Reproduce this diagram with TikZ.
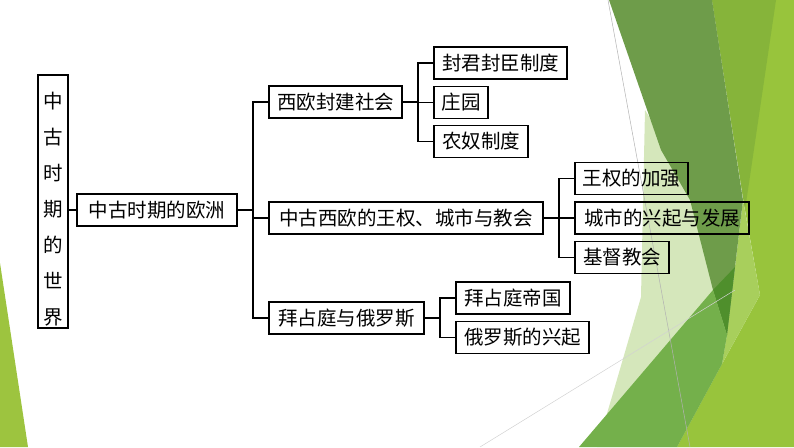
\documentclass[tikz,border=0pt]{standalone}
\usepackage{fontspec}
\newfontfamily\cjk{Noto Sans CJK SC}
\definecolor{facetdark}{RGB}{110,156,74}
\definecolor{facetdarkest}{RGB}{79,143,44}
\definecolor{facetyellow}{RGB}{134,180,58}
\definecolor{facetlime}{RGB}{152,196,60}
\definecolor{facetlightlime}{RGB}{168,207,92}
\definecolor{facetpale}{RGB}{213,231,187}
\definecolor{facetmed}{RGB}{116,176,75}
\definecolor{facetleft}{RGB}{157,196,63}
\tikzset{
  box/.style={draw=black, line width=1.6pt, inner sep=0pt, minimum height=32pt,
    font=\cjk\fontsize{19.5}{23}\selectfont},
  link/.style={draw=black, line width=1.3pt}
}
\begin{document}
\begin{tikzpicture}[x=1pt,y=-1pt]
\useasboundingbox (0,0) rectangle (794,447);
% background facets
\fill[facetleft] (0,263) -- (28,447) -- (0,447) -- cycle;
\fill[facetpale] (645,110) -- (700,200) -- (740,300) -- (700,447) -- (597,447) -- (611,400) -- (641,297) -- cycle;
\fill[facetlime] (712,0) -- (794,0) -- (794,447) -- (677,447) -- (722,364) -- (760,295) -- (745,210) -- cycle;
\fill[facetyellow] (712,0) -- (776,0) -- (745,210) -- cycle;
\fill[facetlightlime] (743,200) -- (760,295) -- (722,364) -- (727,335) -- (735,267) -- cycle;
\fill[facetdark] (609,0) -- (661,150) -- (690,200) -- (713,290) -- (727,335) -- (735,267) -- (743,200) -- (712,0) -- cycle;
\fill[facetdarkest] (735,267) -- (713,290) -- (727,335) -- cycle;
\fill[facetmed] (713,290) -- (727,335) -- (722,364) -- (677,447) -- (579,447) -- cycle;
\draw[gray!60, line width=0.5pt] (608,0) -- (690,447);
\draw[gray!35, line width=0.5pt] (480,447) -- (735,290);
% boxes
\node[box, minimum width=30pt, minimum height=253pt] (w) at (53,201.5) {};
\node[font=\cjk\fontsize{19.5}{36}\selectfont, align=center, inner sep=0pt] (wt) at (53,209.5) {中\\古\\时\\期\\的\\世\\界};
\node[box, minimum width=160pt] (b2) at (157,210) {中古时期的欧洲};
\node[box, minimum width=133pt] (a1) at (335.5,102) {西欧封建社会};
\node[box, minimum width=274pt] (a2) at (406,218) {中古西欧的王权、城市与教会};
\node[box, minimum width=155pt] (a3) at (346.5,318) {拜占庭与俄罗斯};
\node[box, minimum width=133pt] (b11) at (500.5,63) {封君封臣制度};
\node[box, minimum width=54pt] (b12) at (461,102.5) {庄园};
\node[box, minimum width=94pt] (b13) at (481,141.5) {农奴制度};
\node[box, minimum width=113pt] (b21) at (631.5,178.5) {王权的加强};
\node[box, minimum width=174pt] (b22) at (662,218) {城市的兴起与发展};
\node[box, minimum width=94pt] (b23) at (622,257.5) {基督教会};
\node[box, minimum width=114pt] (b31) at (513,298) {拜占庭帝国};
\node[box, minimum width=133pt] (b32) at (522.5,337.5) {俄罗斯的兴起};
% trunk coordinates
\coordinate (t0) at (253,210);
\coordinate (t1) at (418,102);
\coordinate (t2) at (559,218);
\coordinate (t3) at (440,318);
% connectors
\draw[link] (w.east |- b2.west) -- (b2.west);
\draw[link] (b2.east) -- (t0);
\draw[link] (a1.west) -| (t0) |- (a3.west);
\draw[link] (t0 |- a2.west) -- (a2.west);
\draw[link] (a1.east) -- (t1);
\draw[link] (b11.west) -| (t1) |- (b13.west);
\draw[link] (t1 |- b12.west) -- (b12.west);
\draw[link] (a2.east) -- (t2);
\draw[link] (b21.west) -| (t2) |- (b23.west);
\draw[link] (t2) -- (b22.west);
\draw[link] (a3.east) -- (t3);
\draw[link] (b31.west) -| (t3) |- (b32.west);
\end{tikzpicture}
\end{document}
